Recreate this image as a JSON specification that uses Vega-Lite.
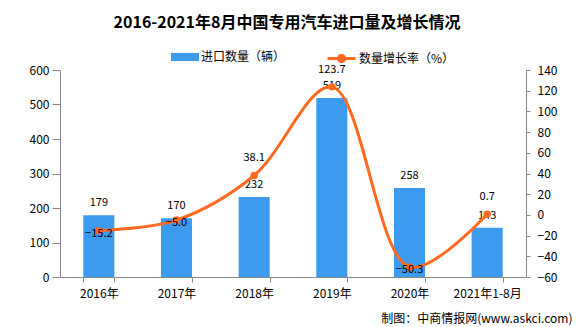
{
  "$schema": "https://vega.github.io/schema/vega-lite/v6.json",
  "width": 466,
  "height": 207,
  "autosize": "none",
  "padding": {"left": 60, "top": 70, "right": 50, "bottom": 50},
  "background": "white",
  "config": {
    "font": "Noto Sans CJK SC",
    "view": {"stroke": null},
    "axis": {"grid": false, "domainColor": "#888888", "tickColor": "#888888", "labelColor": "#000000", "labelFontSize": 12, "labelFont": "Noto Sans CJK SC"},
    "legend": {"labelFontSize": 12, "labelFont": "Noto Sans CJK SC", "labelColor": "#000000"}
  },
  "title": {
    "text": "2016-2021年8月中国专用汽车进口量及增长情况",
    "fontSize": 16,
    "fontWeight": "bold",
    "font": "Noto Sans CJK SC",
    "color": "#000000",
    "anchor": "middle",
    "dx": -6,
    "offset": 12
  },
  "data": {
    "values": [
      {"year": "2016年", "qty": 179, "growth": -15.2},
      {"year": "2017年", "qty": 170, "growth": -5.0},
      {"year": "2018年", "qty": 232, "growth": 38.1},
      {"year": "2019年", "qty": 519, "growth": 123.7},
      {"year": "2020年", "qty": 258, "growth": -50.3},
      {"year": "2021年1-8月", "qty": 143, "growth": 0.7}
    ]
  },
  "encoding": {
    "x": {
      "field": "year",
      "type": "nominal",
      "sort": null,
      "scale": {"paddingInner": 0.6, "paddingOuter": 0.3},
      "axis": {
        "title": "制图：中商情报网(www.askci.com)",
        "titleFontSize": 12,
        "titleFont": "Noto Sans CJK SC",
        "titleFontWeight": "normal",
        "titleColor": "#000000",
        "titleAnchor": "end",
        "titleAlign": "right",
        "titleBaseline": "middle",
        "titleX": 512,
        "titleY": 41,
        "labelAngle": 0,
        "tickBand": "extent",
        "tickSize": 5,
        "labelPadding": 6
      }
    }
  },
  "layer": [
    {
      "encoding": {
        "y": {
          "field": "qty",
          "type": "quantitative",
          "scale": {"domain": [0, 600], "nice": false},
          "axis": {"title": null, "values": [0, 100, 200, 300, 400, 500, 600], "tickSize": 8, "labelPadding": 3, "orient": "left", "labelOverlap": false}
        }
      },
      "layer": [
        {
          "mark": {"type": "bar"},
          "encoding": {
            "fill": {
              "datum": "进口数量（辆）",
              "scale": {"domain": ["进口数量（辆）"], "range": ["#3D9BEF"]},
              "legend": {
                "title": null,
                "orient": "none",
                "legendX": 111,
                "legendY": -27,
                "symbolType": "M-1,-0.29L1,-0.29L1,0.29L-1,0.29Z",
                "symbolSize": 784,
                "symbolStrokeWidth": 0,
                "labelOffset": 2
              }
            }
          }
        },
        {
          "mark": {"type": "text", "baseline": "bottom", "dy": -7, "fontSize": 11, "color": "#000000"},
          "encoding": {
            "text": {"field": "qty", "type": "quantitative"}
          }
        }
      ]
    },
    {
      "encoding": {
        "y": {
          "field": "growth",
          "type": "quantitative",
          "scale": {"domain": [-60, 140], "nice": false},
          "axis": {"title": null, "orient": "right", "values": [-60, -40, -20, 0, 20, 40, 60, 80, 100, 120, 140], "tickSize": 4, "labelPadding": 7, "labelOverlap": false}
        }
      },
      "layer": [
        {
          "mark": {"type": "line", "interpolate": "catmull-rom", "strokeWidth": 3},
          "encoding": {
            "stroke": {
              "datum": "数量增长率（%）",
              "scale": {"domain": ["数量增长率（%）"], "range": ["#FF6A20"]},
              "legend": {
                "title": null,
                "orient": "none",
                "legendX": 266,
                "legendY": -27,
                "symbolType": "M-1,0L1,0M-0.22,0A0.22,0.22,0,1,0,0.22,0A0.22,0.22,0,1,0,-0.22,0",
                "symbolSize": 784,
                "symbolStrokeWidth": 3,
                "symbolFillColor": "#FF6A20",
                "labelOffset": 2
              }
            }
          }
        },
        {
          "mark": {"type": "point", "filled": true, "size": 55, "color": "#FF6A20", "opacity": 1},
          "encoding": {}
        },
        {
          "transform": [{"filter": "datum.growth >= 0"}],
          "mark": {"type": "text", "baseline": "middle", "dy": -17, "fontSize": 11, "color": "#000000"},
          "encoding": {
            "text": {"field": "growth", "type": "quantitative", "format": ".1f"}
          }
        },
        {
          "transform": [{"filter": "datum.growth < 0"}],
          "mark": {"type": "text", "baseline": "middle", "dy": 3, "fontSize": 11, "color": "#000000"},
          "encoding": {
            "text": {"field": "growth", "type": "quantitative", "format": ".1f"}
          }
        }
      ]
    }
  ],
  "resolve": {"scale": {"y": "independent"}}
}
